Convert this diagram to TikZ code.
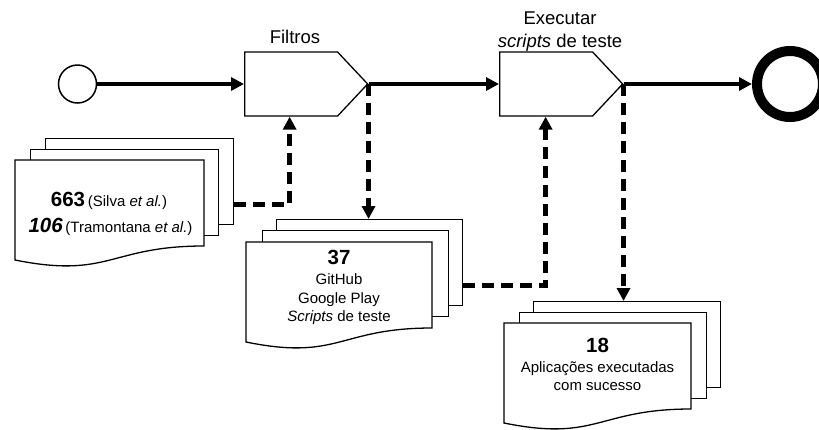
\documentclass[tikz,border=0pt]{standalone}
\usepackage{fontspec}
\setmainfont{Liberation Sans}
\usetikzlibrary{arrows.meta,shapes.symbols,calc}
\begin{document}
\begin{tikzpicture}[x=1pt,y=-1pt,
  proc/.style={signal, signal to=east, signal from=nowhere, draw, line width=1.3pt, fill=white,
    minimum width=123pt, minimum height=64pt, signal pointer angle=93.6, inner sep=0pt, anchor=west},
  layer/.style={rectangle, draw, line width=1.3pt, fill=white, minimum width=#1pt,
    minimum height=86pt, anchor=north west, inner sep=0pt},
  docline/.style={line width=1.3pt, fill=white},
  mainarrow/.style={line width=4pt, -{Triangle[length=13pt,width=13pt]}},
  dasharrow/.style={line width=4.5pt, dash pattern=on 12pt off 7pt, -{Triangle[length=13pt,width=13pt]}},
  lbl/.style={font=\fontsize{18.5}{22}\selectfont, anchor=base, inner sep=0pt},
  bignum/.style={font=\fontsize{20.5}{24}\selectfont\bfseries, anchor=base, inner sep=0pt},
  small/.style={font=\fontsize{15}{18}\selectfont, anchor=base, inner sep=0pt}
]
\useasboundingbox (0,0) rectangle (819,429);

% start and end events
\node[circle, draw, line width=1.5pt, fill=white, minimum size=38pt, inner sep=0pt] (start) at (77.5,84) {};
\node[circle, draw, line width=10pt, fill=white, minimum size=66pt, inner sep=0pt] (end) at (790,84) {};

% processes
\node[proc] (f1) at (244,84) {};
\node[proc] (f2) at (499,84) {};
\node[lbl] (f1lbl) at (295,43) {Filtros};
\node[lbl] (f2lbla) at (560,24) {Executar};
\node[lbl] (f2lblb) at (560,47) {\itshape scripts\upshape{} de teste};

% stack 1
\node[layer=188] (s1back) at (45,138) {};
\node[layer=188] (s1mid) at (30,149) {};
\draw[docline] (15,160) -- (204,160) -- (204,246) .. controls (109.5,246) and (109.5,279) .. (15,260) -- cycle;
\node[anchor=base, inner sep=0pt] (s1a) at (109,206) {{\fontsize{20.5}{24}\selectfont\bfseries 663} {\fontsize{15}{18}\selectfont (Silva \itshape et al.\upshape)}};
\node[anchor=base, inner sep=0pt] (s1b) at (110.5,232) {{\fontsize{20.5}{24}\selectfont\bfseries\itshape 106} {\fontsize{15}{18}\selectfont (Tramontana \itshape et al.\upshape)}};

% stack 2
\node[layer=186] (s2back) at (276,219) {};
\node[layer=186] (s2mid) at (262,230) {};
\draw[docline] (246,242) -- (432,242) -- (432,328) .. controls (339,328) and (339,361) .. (246,342) -- cycle;
\node[bignum] (s2n) at (339,264) {37};
\node[small] (s2a) at (339,284) {GitHub};
\node[small] (s2b) at (339,303) {Google Play};
\node[small] (s2c) at (339,321) {\itshape Scripts\upshape{} de teste};

% stack 3
\node[layer=187] (s3back) at (533,301) {};
\node[layer=187] (s3mid) at (519,312) {};
\draw[docline] (504,323) -- (691,323) -- (691,409) .. controls (597.5,409) and (597.5,442) .. (504,423) -- cycle;
\node[bignum] (s3n) at (597.5,352) {18};
\node[small] (s3a) at (597.5,372) {Aplicações executadas};
\node[small] (s3b) at (597.5,390) {com sucesso};

% main flow
\draw[mainarrow] (start) -- (f1.west);
\draw[mainarrow] (f1.east) -- (f2.west);
\draw[mainarrow] (f2.east) -- (end.west);

% dashed flows
\draw[dasharrow] ([yshift=-23pt]s1back.east) -| ([xshift=-1.5pt]f1.south);
\draw[dasharrow] (f1.east) -- (f1.east |- s2back.north);
\draw[dasharrow] ([yshift=-23pt]s2back.east) -| ([xshift=-0.5pt]f2.south);
\draw[dasharrow] (f2.east) -- (f2.east |- s3back.north);
\end{tikzpicture}
\end{document}
